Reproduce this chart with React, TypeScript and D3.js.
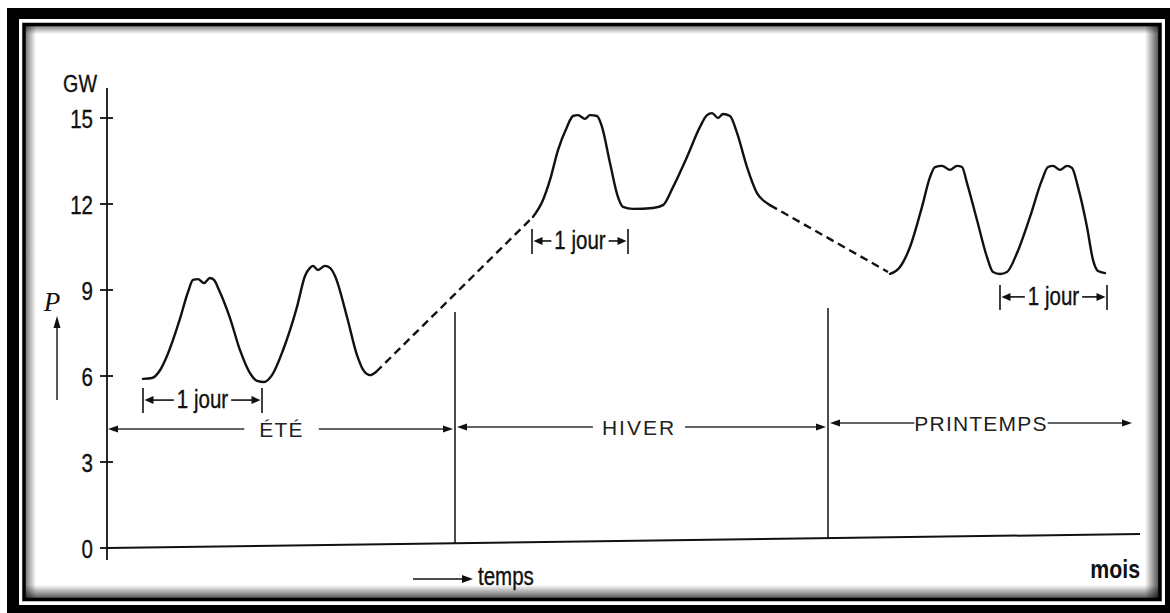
import * as d3 from "d3";
import { useEffect, useRef } from "react";

const W = 1170;
const H = 613;

// y axis (GW)
const yTicks = [0, 3, 6, 9, 12, 15];

// load curves: [time (h from axis), power (GW)]
const summerLoad: [number, number][] = [
  [7.2, 5.9], [9.0, 5.93], [10.6, 6.2], [12.0, 6.7], [14.6, 8.0], [16.2, 8.93],
  [17.2, 9.35], [18.2, 9.38], [19.4, 9.24], [20.6, 9.42], [21.4, 9.35], [22.4, 9.0],
  [24.6, 8.02], [26.6, 6.9], [28.6, 6.1], [30.0, 5.83], [31.4, 5.79], [33.0, 6.03],
  [35.2, 6.9], [38.0, 8.41], [39.6, 9.49], [40.6, 9.77], [41.2, 9.84], [42.2, 9.7],
  [43.6, 9.84], [44.6, 9.77], [45.6, 9.49], [48.0, 8.06], [50.0, 6.73], [51.4, 6.17],
  [52.6, 6.03], [53.8, 6.14],
];
const summerToWinter: [number, number][] = [[53.8, 6.14], [85.2, 11.55]];
const winterLoad: [number, number][] = [
  [85.2, 11.55], [87.2, 12.14], [88.6, 12.84], [90.2, 13.88], [92.0, 14.69], [93.2, 15.07],
  [94.2, 15.1], [95.6, 14.97], [96.6, 15.1], [98.0, 15.07], [99.0, 14.69], [100.6, 13.43],
  [102.2, 12.24], [103.2, 11.9], [105.2, 11.83], [109.2, 11.86], [111.2, 11.96], [113.2, 12.59],
  [116.0, 13.64], [118.6, 14.69], [120.0, 15.1], [121.0, 15.17], [122.2, 15.0], [123.2, 15.14],
  [124.6, 15.07], [126.0, 14.48], [128.0, 13.29], [130.0, 12.38], [132.0, 12.03], [132.6, 11.96],
];
const winterToSpring: [number, number][] = [[132.6, 11.96], [156.2, 9.63]];
const springLoad: [number, number][] = [
  [156.6, 9.56], [158.6, 9.8], [160.6, 10.5], [163.0, 11.9], [164.6, 12.94], [165.6, 13.29],
  [167.0, 13.33], [168.6, 13.19], [170.0, 13.33], [171.0, 13.29], [172.0, 12.73], [174.0, 11.44],
  [176.0, 10.15], [177.2, 9.63], [178.6, 9.56], [180.0, 9.63], [182.0, 10.29], [184.6, 11.55],
  [187.0, 12.84], [188.2, 13.29], [189.2, 13.33], [190.6, 13.19], [192.0, 13.33], [193.0, 13.26],
  [194.2, 12.59], [196.0, 11.2], [197.2, 10.05], [198.2, 9.66], [199.6, 9.59],
];

// seasons: label, span (h), label centre (h), level of the arrow row (GW)
const seasonLabels = ["ÉTÉ", "HIVER", "PRINTEMPS"];
const seasonFrom = [0, 69.6, 144.2];
const seasonTo = [69.6, 144.2, 205];
const seasonMid = [34.9, 106.4, 174.8];
const seasonRow = [4.15, 4.22, 4.36];
// season boundaries and top of their lines (GW)
const boundaryAt = [69.6, 144.2];
const boundaryTop = [8.23, 8.37];

// "1 jour" markers
const dayFrom = [7.2, 85.0, 178.6];
const dayTo = [31.0, 104.2, 200.0];
const dayLevel = [5.16, 10.71, 8.76];

// time axis ends; the scanned base line is slightly skewed
const timeEnd = 206.6;
const baseSkew = [0, 0.49];

const sans = "'Liberation Sans', Arial, Helvetica, sans-serif";
const seasonGap = [15, 9, 0];

const App = () => {
  const ref = useRef<SVGSVGElement>(null);

  useEffect(() => {
    const svg = d3.select(ref.current);
    svg.selectAll("*").remove();

    const x = d3.scaleLinear().domain([0, 207]).range([107, 1142]);
    const y = d3.scaleLinear().domain([0, 15]).range([548, 118]);
    const base = d3.scaleLinear().domain([0, timeEnd]).range(baseSkew);

    // frame
    const defs = svg.append("defs");
    const grad = (id: string, x1: number, y1: number, x2: number, y2: number, a: number) => {
      const g = defs.append("linearGradient").attr("id", id)
        .attr("x1", x1).attr("y1", y1).attr("x2", x2).attr("y2", y2);
      g.append("stop").attr("offset", 0).attr("stop-color", "#000").attr("stop-opacity", a);
      g.append("stop").attr("offset", 1).attr("stop-color", "#000").attr("stop-opacity", 0);
    };
    grad("shL", 0, 0, 1, 0, 0.55);
    grad("shT", 0, 0, 0, 1, 0.55);
    grad("shR", 1, 0, 0, 0, 0.7);
    grad("shB", 0, 1, 0, 0, 0.7);

    svg.append("rect").attr("x", 7).attr("y", 8).attr("width", W - 7).attr("height", H - 8).attr("fill", "#000");
    svg.append("rect").attr("x", 19).attr("y", 19).attr("width", 1146).attr("height", 586).attr("fill", "#fff");
    svg.append("rect").attr("x", 25).attr("y", 25).attr("width", 11).attr("height", 574).attr("fill", "url(#shL)");
    svg.append("rect").attr("x", 25).attr("y", 25).attr("width", 1134).attr("height", 9).attr("fill", "url(#shT)");
    svg.append("rect").attr("x", 1145).attr("y", 25).attr("width", 14).attr("height", 574).attr("fill", "url(#shR)");
    svg.append("rect").attr("x", 25).attr("y", 585).attr("width", 1134).attr("height", 14).attr("fill", "url(#shB)");
    svg.append("rect").attr("x", 24).attr("y", 24.5).attr("width", 1136).attr("height", 575)
      .attr("fill", "none").attr("stroke", "#000").attr("stroke-width", 3.5);

    const g = svg.append("g");

    // narrow (condensed) text: squeeze the glyphs horizontally
    const label = (tx: number, ty: number, s: string, size: number, anchor = "start", bold = false) => {
      const t = g.append("text").attr("x", tx).attr("y", ty).attr("text-anchor", anchor)
        .attr("font-family", sans).attr("font-size", size).attr("fill", "#111")
        .attr("font-weight", bold ? "bold" : "normal")
        .attr("stroke", "#111").attr("stroke-width", bold ? 0 : 0.35).text(s);
      const w = (t.node() as SVGTextElement).getComputedTextLength();
      t.attr("textLength", w * 0.82).attr("lengthAdjust", "spacingAndGlyphs");
      return w * 0.82;
    };

    const head = (px: number, py: number, dir: string, len = 10, hw = 3.5) => {
      let pts: number[][] = [];
      if (dir === "r") pts = [[px, py], [px - len, py - hw], [px - len, py + hw]];
      if (dir === "l") pts = [[px, py], [px + len, py - hw], [px + len, py + hw]];
      if (dir === "u") pts = [[px, py], [px - hw, py + len], [px + hw, py + len]];
      g.append("polygon").attr("points", pts.map((p) => p.join(",")).join(" ")).attr("fill", "#111");
    };

    // y axis
    g.append("line").attr("x1", x(0)).attr("x2", x(0)).attr("y1", 88).attr("y2", 560)
      .attr("stroke", "#111").attr("stroke-width", 1.8);
    yTicks.forEach((v) => {
      g.append("line").attr("x1", x(0) - 7).attr("x2", v === 0 ? x(0) : x(0) + 6)
        .attr("y1", y(v)).attr("y2", y(v)).attr("stroke", "#111").attr("stroke-width", 1.8);
      label(93, y(v) + 10, String(v), 25, "end");
    });
    label(97, 92, "GW", 24, "end");

    // P label with arrow
    g.append("text").attr("x", 52).attr("y", 311).attr("text-anchor", "middle")
      .attr("font-family", "'Liberation Serif', 'DejaVu Serif', serif").attr("font-style", "italic")
      .attr("font-size", 27).attr("fill", "#111").text("P");
    g.append("line").attr("x1", 57).attr("x2", 57).attr("y1", 400).attr("y2", 326)
      .attr("stroke", "#222").attr("stroke-width", 1.5);
    head(57, 316, "u", 12, 3.5);

    // base line
    g.append("line").attr("x1", x(0)).attr("x2", x(timeEnd))
      .attr("y1", y(base(0))).attr("y2", y(base(timeEnd)))
      .attr("stroke", "#111").attr("stroke-width", 2);

    // season boundaries
    boundaryAt.forEach((t, i) => {
      g.append("line").attr("x1", x(t)).attr("x2", x(t))
        .attr("y1", y(boundaryTop[i])).attr("y2", y(base(t)))
        .attr("stroke", "#111").attr("stroke-width", 1.5);
    });

    // season arrows
    seasonLabels.forEach((lab, i) => {
      const yy = y(seasonRow[i]);
      const txt = g.append("text").attr("x", x(seasonMid[i])).attr("y", yy + 7.5)
        .attr("text-anchor", "middle").attr("font-family", sans).attr("font-size", 21)
        .attr("letter-spacing", i === 1 ? 2 : 1.2).attr("fill", "#222").text(lab);
      const w = (txt.node() as SVGTextElement).getComputedTextLength();
      const x0 = x(seasonFrom[i]) + (i === 0 ? 1 : 2);
      const x1 = i === 2 ? x(seasonTo[i]) : x(seasonTo[i]) - 2;
      const tl = x(seasonMid[i]) - w / 2 - seasonGap[i];
      const tr = x(seasonMid[i]) + w / 2 + seasonGap[i];
      g.append("line").attr("x1", x0 + 8).attr("x2", tl).attr("y1", yy).attr("y2", yy)
        .attr("stroke", "#333").attr("stroke-width", 1.6);
      g.append("line").attr("x1", tr).attr("x2", x1 - 8).attr("y1", yy).attr("y2", yy)
        .attr("stroke", "#333").attr("stroke-width", 1.6);
      head(x0, yy, "l");
      head(x1, yy, "r");
    });

    // "1 jour" markers
    dayFrom.forEach((t0, i) => {
      const a = x(t0);
      const b = x(dayTo[i]);
      const yy = y(dayLevel[i]);
      const mid = (a + b) / 2;
      [a, b].forEach((bx) => {
        g.append("line").attr("x1", bx).attr("x2", bx).attr("y1", yy - 12).attr("y2", yy + 13)
          .attr("stroke", "#111").attr("stroke-width", 1.6);
      });
      const w = label(mid, yy + 8, "1 jour", 25, "middle");
      g.append("line").attr("x1", mid - w / 2 - 3).attr("x2", a + 8).attr("y1", yy).attr("y2", yy)
        .attr("stroke", "#111").attr("stroke-width", 1.6);
      g.append("line").attr("x1", mid + w / 2 + 3).attr("x2", b - 8).attr("y1", yy).attr("y2", yy)
        .attr("stroke", "#111").attr("stroke-width", 1.6);
      head(a + 1.5, yy, "l", 9, 4);
      head(b - 1.5, yy, "r", 9, 4);
    });

    // load curve
    const line = d3.line<[number, number]>()
      .x((d) => x(d[0])).y((d) => y(d[1]))
      .curve(d3.curveMonotoneX);
    [summerLoad, winterLoad, springLoad].forEach((seg) => {
      g.append("path").attr("d", line(seg)).attr("fill", "none").attr("stroke", "#111")
        .attr("stroke-width", 2.4).attr("stroke-linejoin", "round").attr("stroke-linecap", "round");
    });
    const straight = d3.line<[number, number]>().x((d) => x(d[0])).y((d) => y(d[1]));
    [summerToWinter, winterToSpring].forEach((seg) => {
      g.append("path").attr("d", straight(seg)).attr("fill", "none").attr("stroke", "#111")
        .attr("stroke-width", 2.4).attr("stroke-dasharray", "8,5");
    });

    // time labels
    g.append("line").attr("x1", 413).attr("x2", 463).attr("y1", 579).attr("y2", 579)
      .attr("stroke", "#111").attr("stroke-width", 1.6);
    head(473, 579, "r", 11, 4);
    label(478, 585, "temps", 25);
    label(1140, 578, "mois", 26, "end", true);
  }, []);

  return (
    <svg ref={ref} width={W} height={H}
      style={{ position: "absolute", left: 0, top: 0, background: "#fff" }} />
  );
};

export default App;
